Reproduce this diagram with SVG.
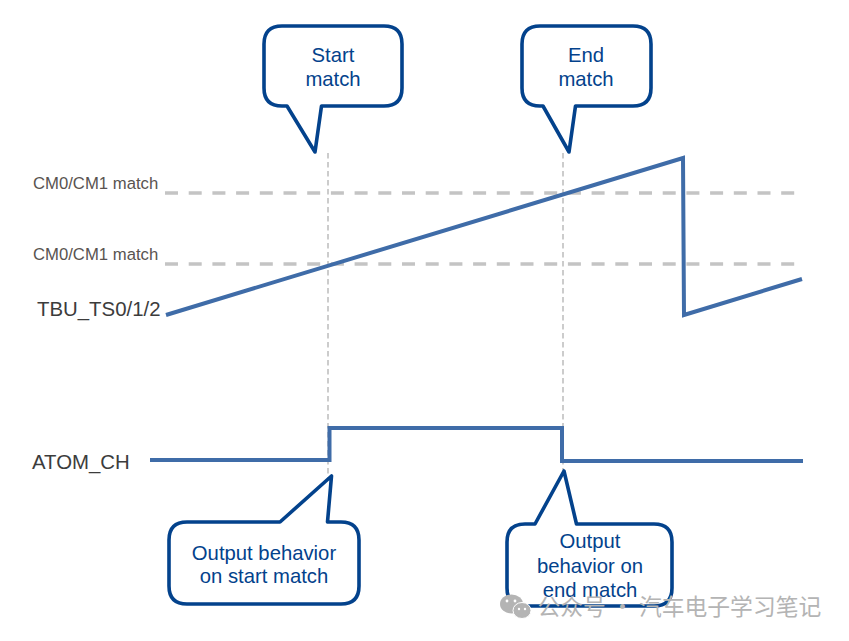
<svg xmlns="http://www.w3.org/2000/svg" width="849" height="641" viewBox="0 0 849 641">
<style>
text{font-family:"Liberation Sans",Arial,sans-serif}
.call{fill:#fff;stroke:#03428c;stroke-width:3.6;stroke-linejoin:round}
.ct{fill:#03428c;font-size:20.3px;text-anchor:middle}
.sig{fill:none;stroke:#3f6ca8;stroke-width:4;stroke-linejoin:miter}
.lvl{fill:none;stroke:#c4c4c4;stroke-width:3.5;stroke-dasharray:13 10.7}
.vl{fill:none;stroke:#c0c0c0;stroke-width:1.6;stroke-dasharray:5.5 3.5}
.cm{fill:#595350;font-size:16.7px}
.lb{fill:#3c3c3c;font-size:20.4px}
.wm{fill:#b4b4b4;font-size:22.8px;font-family:"Noto Sans CJK SC","Liberation Sans",sans-serif}
</style>
<rect width="849" height="641" fill="#fff"/>
<g id="connectors">
<path class="lvl" d="M165 193H797"/>
<path class="lvl" d="M165 264H797"/>
<path class="vl" d="M328 153V480"/>
<path class="vl" d="M563 153V480"/>
<path class="sig" d="M166 315L683 158L684 315L802 279"/>
<path class="sig" d="M150 460H329.500V428H562V461H803"/>
</g>
<g id="label-cm-upper"><text class="cm" x="33" y="189">CM0/CM1 match</text></g>
<g id="label-cm-lower"><text class="cm" x="33" y="260">CM0/CM1 match</text></g>
<g id="label-tbu"><text class="lb" x="37" y="316">TBU_TS0/1/2</text></g>
<g id="label-atom"><text class="lb" x="32" y="469">ATOM_CH</text></g>
<g id="callout-start">
<path class="call" d="M282 26H384Q402 26 402 44V88Q402 106 384 106H321.500L315 152L287 106H282Q264 106 264 88V44Q264 26 282 26Z"/>
<text class="ct" x="333" y="62">Start</text><text class="ct" x="333" y="86">match</text>
</g>
<g id="callout-end">
<path class="call" d="M540 26H633Q651 26 651 44V88Q651 106 633 106H575.500L569 152L543 106H540Q522 106 522 88V44Q522 26 540 26Z"/>
<text class="ct" x="586" y="62">End</text><text class="ct" x="586" y="86">match</text>
</g>
<g id="callout-output-start">
<path class="call" d="M187 522H280L331.500 476L327.500 522H341Q359 522 359 540V586Q359 604 341 604H187Q169 604 169 586V540Q169 522 187 522Z"/>
<text class="ct" x="264" y="560">Output behavior</text><text class="ct" x="264" y="583">on start match</text>
</g>
<g id="callout-output-end">
<path class="call" d="M525 524H535L564 471L576.500 524H654Q672 524 672 542V588Q672 606 654 606H525Q507 606 507 588V542Q507 524 525 524Z"/>
<text class="ct" x="590" y="548">Output</text><text class="ct" x="590" y="573">behavior on</text><text class="ct" x="590" y="597">end match</text>
</g>
<g id="watermark">
<ellipse cx="511.500" cy="604" rx="11.500" ry="9.500" fill="#b4b4b4"/>
<ellipse cx="522" cy="610.500" rx="9" ry="8" fill="#b4b4b4" stroke="#fff" stroke-width="1"/>
<circle cx="507" cy="601" r="1.400" fill="#fff"/>
<circle cx="515" cy="601" r="1.400" fill="#fff"/>
<circle cx="519" cy="609" r="1.200" fill="#fff"/>
<circle cx="525" cy="609" r="1.200" fill="#fff"/>
<text class="wm" x="537.500" y="615">公众号 · 汽车电子学习笔记</text>
</g>
</svg>
